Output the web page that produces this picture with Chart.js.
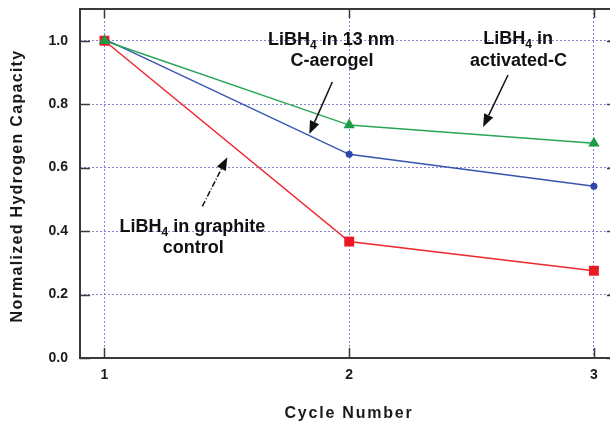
<!DOCTYPE html>
<html>
<head>
<meta charset="utf-8">
<script src="https://cdn.jsdelivr.net/npm/chart.js@4.4.1/dist/chart.umd.min.js"></script>
<style>
  html, body { margin: 0; padding: 0; background: #fff; overflow: hidden; }
  #wrap { width: 610px; height: 423px; position: relative; overflow: hidden; }
</style>
</head>
<body>
<div id="wrap"><canvas id="c" width="620" height="423"></canvas></div>
<script>
// ---- data ----
const cycles = [1, 2, 3];
const aerogel = [1.005, 0.642, 0.541];      // blue circles
const activatedC = [1.0, 0.734, 0.677];    // green triangles
const graphite = [1.0, 0.367, 0.275];      // red squares
const yTicks = [0.0, 0.2, 0.4, 0.6, 0.8, 1.0];
const xTitle = 'Cycle Number';
const yTitle = 'Normalized Hydrogen Capacity';

// annotation text (data coordinates)
const notes = [
  { x: 1.927, y: 0.987, parts: [['LiBH'], ['4', 'sub'], [' in 13 nm']] },
  { x: 1.930, y: 0.921, parts: [['C-aerogel']] },
  { x: 2.690, y: 0.990, parts: [['LiBH'], ['4', 'sub'], [' in']] },
  { x: 2.692, y: 0.921, parts: [['activated-C']] },
  { x: 1.359, y: 0.396, parts: [['LiBH'], ['4', 'sub'], [' in graphite']] },
  { x: 1.363, y: 0.332, parts: [['control']] }
];
const arrows = [
  { from: [1.931, 0.870], to: [1.837, 0.706], dash: [] },
  { from: [2.649, 0.892], to: [2.547, 0.728], dash: [] },
  { from: [1.400, 0.478], to: [1.502, 0.633], dash: [6, 2, 1, 2] }
];

const pts = arr => cycles.map((c, i) => ({ x: c, y: arr[i] }));

const FONT = '"Liberation Sans", Arial, sans-serif';
const GRID = 'rgba(110,110,205,0.85)';
const AXIS = '#3a3a3a';

const framePlugin = {
  id: 'frame',
  beforeDatasetsDraw(chart) {
    const { ctx, chartArea: a, scales: { x, y } } = chart;
    ctx.save();
    ctx.strokeStyle = AXIS;
    ctx.lineWidth = 1.5;
    ctx.beginPath();
    cycles.forEach(c => {
      const px = Math.round(x.getPixelForValue(c)) + 0.5;
      ctx.moveTo(px, a.bottom); ctx.lineTo(px, a.bottom - 10);
      ctx.moveTo(px, a.top); ctx.lineTo(px, a.top + 9);
    });
    yTicks.forEach(v => {
      const py = Math.round(y.getPixelForValue(v)) + 0.5;
      ctx.moveTo(a.left, py); ctx.lineTo(a.left + 10, py);
      ctx.moveTo(a.right, py); ctx.lineTo(a.right - 6, py);
    });
    ctx.stroke();
    ctx.lineWidth = 2;
    ctx.strokeRect(a.left, a.top, a.right - a.left, a.bottom - a.top);
    ctx.restore();
  },
  afterDraw(chart) {
    const { ctx, chartArea: a, scales: { x, y } } = chart;
    ctx.save();
    ctx.fillStyle = '#111';
    ctx.textBaseline = 'alphabetic';
    const big = 'bold 18px ' + FONT, small = 'bold 12px ' + FONT;
    notes.forEach(n => {
      let w = 0;
      n.parts.forEach(p => { ctx.font = p[1] ? small : big; w += ctx.measureText(p[0]).width; });
      let cx = x.getPixelForValue(n.x) - w / 2;
      const by = y.getPixelForValue(n.y);
      n.parts.forEach(p => {
        ctx.font = p[1] ? small : big;
        ctx.fillText(p[0], cx, p[1] ? by + 4 : by);
        cx += ctx.measureText(p[0]).width;
      });
    });
    // arrows
    arrows.forEach(ar => {
      const x0 = x.getPixelForValue(ar.from[0]), y0 = y.getPixelForValue(ar.from[1]);
      const x1 = x.getPixelForValue(ar.to[0]), y1 = y.getPixelForValue(ar.to[1]);
      const ang = Math.atan2(y1 - y0, x1 - x0);
      const hl = 13, hw = 5;
      const bx = x1 - hl * Math.cos(ang), by = y1 - hl * Math.sin(ang);
      ctx.strokeStyle = '#111';
      ctx.lineWidth = 1.5;
      ctx.setLineDash(ar.dash);
      ctx.beginPath(); ctx.moveTo(x0, y0); ctx.lineTo(bx, by); ctx.stroke();
      ctx.setLineDash([]);
      ctx.beginPath();
      ctx.moveTo(x1, y1);
      ctx.lineTo(bx + hw * Math.sin(ang), by - hw * Math.cos(ang));
      ctx.lineTo(bx - hw * Math.sin(ang), by + hw * Math.cos(ang));
      ctx.closePath(); ctx.fill();
    });
    // axis titles
    ctx.fillStyle = '#1a1a1a';
    ctx.font = 'bold 16px ' + FONT;
    ctx.textAlign = 'center';
    ctx.textBaseline = 'middle';
    ctx.letterSpacing = '1.8px';
    ctx.fillText(xTitle, 349, 414);
    ctx.letterSpacing = '1.3px';
    ctx.translate(18, 186);
    ctx.rotate(-Math.PI / 2);
    ctx.fillText(yTitle, 0, 0);
    ctx.restore();
  }
};

new Chart(document.getElementById('c'), {
  type: 'line',
  data: {
    datasets: [
      {
        label: 'LiBH4 in activated-C', data: pts(activatedC),
        borderColor: 'rgb(40,165,85)', backgroundColor: 'rgb(30,155,70)',
        pointStyle: 'triangle', pointRadius: 6.5, borderWidth: 1.5, pointBorderWidth: 0
      },
      {
        label: 'LiBH4 in graphite control', data: pts(graphite),
        borderColor: 'rgb(240,40,45)', backgroundColor: 'rgb(235,25,35)',
        pointStyle: 'rect', pointRadius: 7, borderWidth: 1.5, pointBorderWidth: 0
      },
      {
        label: 'LiBH4 in 13 nm C-aerogel', data: pts(aerogel),
        borderColor: 'rgb(55,85,175)', backgroundColor: 'rgb(45,70,170)',
        pointStyle: 'circle', pointRadius: 3.5, borderWidth: 1.5, pointBorderWidth: 0
      }
    ]
  },
  options: {
    responsive: false,
    animation: false,
    devicePixelRatio: 1,
    layout: { padding: { top: 9, right: 0, left: 0, bottom: 0 } },
    plugins: { legend: { display: false }, tooltip: { enabled: false } },
    elements: { line: { tension: 0 } },
    scales: {
      x: {
        type: 'linear', min: 0.9, max: 3.078,
        afterBuildTicks: s => { s.ticks = cycles.map(v => ({ value: v })); },
        afterFit: s => { s.height = 65; s.paddingLeft = 0; s.paddingRight = 0; },
        grid: { color: GRID, lineWidth: 1, drawTicks: false },
        border: { display: false, dash: [2, 2] },
        ticks: { padding: 9, color: '#1a1a1a', font: { family: FONT, size: 14, weight: 'bold' },
                 callback: v => String(v) }
      },
      y: {
        min: 0, max: 1.1,
        afterBuildTicks: s => { s.ticks = yTicks.map(v => ({ value: v })); },
        afterFit: s => { s.width = 80; s.paddingTop = 0; s.paddingBottom = 0; },
        grid: { color: GRID, lineWidth: 1, drawTicks: false },
        border: { display: false, dash: [2, 2] },
        ticks: { padding: 12, color: '#1a1a1a', font: { family: FONT, size: 14, weight: 'bold' },
                 callback: v => Number(v).toFixed(1) }
      }
    }
  },
  plugins: [framePlugin]
});
</script>
</body>
</html>
